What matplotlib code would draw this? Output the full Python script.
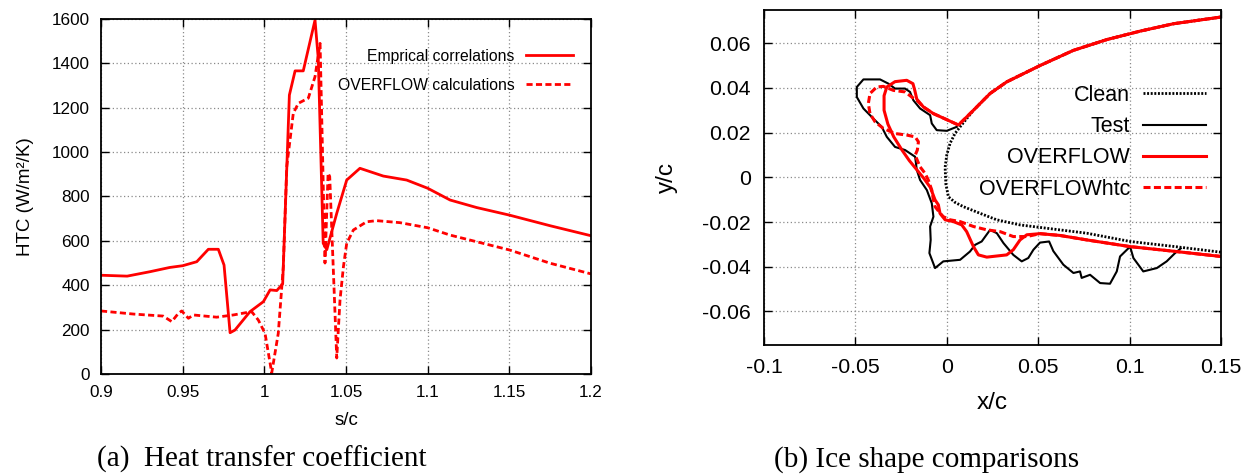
import numpy as np
import matplotlib
matplotlib.use("Agg")
import matplotlib.pyplot as plt

plt.rcParams['font.family'] = ['Liberation Sans', 'DejaVu Sans']

RED = '#ff0000'

# ---------------- (a) heat transfer coefficient ----------------
emp_s = [0.900, 0.916, 0.930, 0.942, 0.950, 0.9586, 0.9657, 0.9718, 0.9753,
         0.979, 0.982, 0.9912, 0.9994, 1.0035, 1.0076, 1.0112, 1.0153, 1.0188,
         1.0238, 1.031, 1.033, 1.036, 1.0382, 1.0443, 1.0504, 1.0585, 1.0728,
         1.0871, 1.100, 1.1137, 1.130, 1.150, 1.175, 1.200]
emp_htc = [445, 441, 461, 480, 488, 506, 562, 562, 491,
           186, 198, 281, 326, 379, 376, 406, 1257, 1366,
           1366, 1595, 1420, 589, 560, 724, 874, 927, 892,
           874, 837, 784, 750, 716, 668, 623]

ovf_s = [0.900, 0.920, 0.938, 0.9433, 0.9473, 0.9494, 0.9535, 0.9565, 0.9708,
         0.981, 0.9922, 0.9963, 1.0004, 1.0045, 1.0085, 1.0116, 1.0137, 1.0177,
         1.0208, 1.0269, 1.031, 1.0341, 1.0371, 1.0390, 1.0400, 1.0443, 1.0463,
         1.0484, 1.0504, 1.0545, 1.0626, 1.0687, 1.083, 1.100, 1.1137, 1.150,
         1.175, 1.200]
ovf_htc = [284, 270, 261, 236, 273, 284, 251, 266, 256,
           266, 281, 243, 183, 5, 183, 484, 935, 1175,
           1220, 1243, 1340, 1490, 500, 905, 890, 72, 333,
           484, 589, 649, 686, 691, 682, 659, 626, 559,
           499, 451]

htc_xticks = [0.9, 0.95, 1.0, 1.05, 1.1, 1.15, 1.2]
htc_xlabels = ['0.9', '0.95', '1', '1.05', '1.1', '1.15', '1.2']
htc_yticks = [0, 200, 400, 600, 800, 1000, 1200, 1400, 1600]

# ---------------- (b) ice shapes ----------------
clean_x = [0.150, 0.124, 0.1058, 0.0875, 0.0693, 0.051, 0.0328, 0.0237, 0.0146,
           0.0073, 0.0045, 0.0018, 0.0, -0.0009, -0.0005, 0.0009, 0.0045, 0.009,
           0.0182, 0.0273, 0.0401, 0.0766, 0.1003, 0.125, 0.150]
clean_y = [0.0717, 0.0687, 0.0654, 0.0616, 0.0568, 0.0500, 0.0427, 0.0375, 0.0300,
           0.0226, 0.0196, 0.0152, 0.0100, 0.0045, -0.0030, -0.0087, -0.0112, -0.0131,
           -0.0161, -0.0190, -0.0213, -0.0250, -0.0287, -0.0310, -0.0335]

test_x = [0.0055, 0.0, -0.0055, -0.0082, -0.0091, -0.0146, -0.0183, -0.0201,
          -0.0228, -0.0283, -0.0319, -0.0365, -0.0456, -0.0492, -0.0492, -0.0456,
          -0.0402, -0.0356, -0.0328, -0.0283, -0.0228, -0.0173, -0.0164, -0.0146,
          -0.0109, -0.0082, -0.0073, -0.0091, -0.0088, -0.0095, -0.0064, -0.0019,
          0.0073, 0.0127, 0.0155, 0.0191, 0.0237, 0.0274, 0.0310, 0.0364, 0.0410,
          0.0446, 0.0474, 0.0510, 0.0560, 0.0583, 0.0638, 0.0693, 0.0729, 0.0738,
          0.0784, 0.0839, 0.0893, 0.0930, 0.0948, 0.1003, 0.1021, 0.1075, 0.1149,
          0.1203, 0.1249, 0.1280]
test_y = [0.0226, 0.0208, 0.0211, 0.0241, 0.0278, 0.0308, 0.0345, 0.0382,
          0.0397, 0.0397, 0.0419, 0.0438, 0.0438, 0.0404, 0.0359, 0.0308,
          0.0263, 0.0226, 0.0181, 0.0136, 0.0122, 0.0092, 0.0033, -0.0012,
          -0.0057, -0.0116, -0.0176, -0.0220, -0.0280, -0.0339, -0.0406, -0.0376,
          -0.0369, -0.0332, -0.0302, -0.0287, -0.0235, -0.0250, -0.0294, -0.0347, -0.0376,
          -0.0361, -0.0324, -0.0292, -0.0287, -0.0330, -0.0391, -0.0428, -0.0421, -0.0450,
          -0.0436, -0.0473, -0.0476, -0.0421, -0.0354, -0.0310, -0.0361, -0.0421, -0.0406,
          -0.0376, -0.0339, -0.0318]

# upper surface shared by both computed shapes (trailing side -> attachment)
upper_x = [0.150, 0.124, 0.1058, 0.0875, 0.0693, 0.051, 0.0328, 0.0237, 0.0146, 0.0064]
upper_y = [0.0717, 0.0687, 0.0654, 0.0616, 0.0568, 0.0500, 0.0427, 0.0375, 0.0300, 0.0234]

ovf_ice_x = [0.0, -0.0073, -0.0128, -0.0164, -0.0175, -0.0185, -0.0219, -0.0283,
             -0.0328, -0.0343, -0.0343, -0.0322, -0.0290, -0.0245, -0.0205, -0.0165,
             -0.0125, -0.0090, -0.0064, -0.0046, -0.0037, -0.0009, 0.0036, 0.0082,
             0.0109, 0.0146, 0.0173, 0.0219, 0.0328, 0.0364, 0.0401, 0.0438]
ovf_ice_y = [0.0258, 0.0285, 0.0315, 0.0350, 0.0389, 0.0419, 0.0434, 0.0428,
             0.0404, 0.0365, 0.0300, 0.0238, 0.0181, 0.0122, 0.0075, 0.0035,
             -0.0005, -0.0045, -0.0101, -0.0123, -0.0161, -0.0190, -0.0198, -0.0213,
             -0.0243, -0.0310, -0.0347, -0.0357, -0.0347, -0.0324, -0.0280, -0.0257]

htc_ice_x = [0.0, -0.0073, -0.0128, -0.0164, -0.0191, -0.0228, -0.0292, -0.0347,
             -0.0383, -0.0420, -0.0429, -0.0420, -0.0392, -0.0347, -0.0283, -0.0219,
             -0.0173, -0.0155, -0.0161, -0.0173, -0.0146, -0.0119, -0.0101, -0.0082,
             -0.0073, -0.0064, -0.0037, -0.0019, 0.0018, 0.0073, 0.0146, 0.0219,
             0.0292, 0.0364, 0.0438]
htc_ice_y = [0.0258, 0.0285, 0.0315, 0.0345, 0.0359, 0.0382, 0.0389, 0.0407,
             0.0404, 0.0375, 0.0330, 0.0285, 0.0248, 0.0219, 0.0196, 0.0189,
             0.0181, 0.0159, 0.0122, 0.0099, 0.0047, 0.0018, -0.0012, -0.0057,
             -0.0101, -0.0131, -0.0160, -0.0176, -0.0190, -0.0198, -0.0220, -0.0235,
             -0.0243, -0.0265, -0.0265]

lower_x = [0.051, 0.0619, 0.0766, 0.1003, 0.1222, 0.150]
lower_y = [-0.0252, -0.0260, -0.0280, -0.0310, -0.0329, -0.0354]

ice_xticks = [-0.1, -0.05, 0.0, 0.05, 0.1, 0.15]
ice_xlabels = ['-0.1', '-0.05', '0', '0.05', '0.1', '0.15']
ice_yticks = [-0.06, -0.04, -0.02, 0.0, 0.02, 0.04, 0.06]
ice_ylabels = ['-0.06', '-0.04', '-0.02', '0', '0.02', '0.04', '0.06']

fig = plt.figure(figsize=(12.52, 4.74), dpi=100)
ax1 = fig.add_axes([0.0807, 0.211, 0.3914, 0.749])
ax2 = fig.add_axes([0.6102, 0.2722, 0.3650, 0.7074])


def frame(ax, size, pad):
    for sp in ax.spines.values():
        sp.set_linewidth(1.3)
        sp.set_color('black')
    ax.tick_params(which='both', direction='in', top=True, right=True,
                   length=6, width=1.0, labelsize=size, pad=pad)
    ax.grid(True, color='#8a8a8a', linestyle=(0, (1, 2)), linewidth=0.9)
    ax.set_axisbelow(True)


# panel (a)
ax1.plot(emp_s, emp_htc, color=RED, lw=2.0, label='Emprical correlations')
ax1.plot(ovf_s, ovf_htc, color=RED, lw=2.0, dashes=(2.2, 1.2),
         label='OVERFLOW calculations')
ax1.set_xlim(0.9, 1.2)
ax1.set_ylim(0, 1600)
ax1.set_xticks(htc_xticks)
ax1.set_xticklabels(htc_xlabels)
ax1.set_yticks(htc_yticks)
frame(ax1, 12.3, 8)
ax1.set_xlabel('s/c', fontsize=13.5)
ax1.set_ylabel('HTC (W/m²/K)', fontsize=13.5)
ax1.xaxis.set_label_coords(0.5, -0.107)
ax1.yaxis.set_label_coords(-0.137, 0.5)
ax1.legend(loc='upper right', bbox_to_anchor=(0.963, 0.916), frameon=False,
           markerfirst=False, fontsize=11.3, handlelength=3.0,
           handletextpad=0.7, labelspacing=0.88, borderpad=0, borderaxespad=0)

# panel (b)
ax2.plot(clean_x, clean_y, color='black', lw=2.0, linestyle=(0, (0.7, 0.6)),
         label='Clean')
ax2.plot(test_x, test_y, color='black', lw=1.5, label='Test')
ax2.plot(upper_x + ovf_ice_x + lower_x, upper_y + ovf_ice_y + lower_y,
         color=RED, lw=2.2, label='OVERFLOW')
ax2.plot(upper_x + htc_ice_x + lower_x, upper_y + htc_ice_y + lower_y,
         color=RED, lw=2.2, dashes=(2.3, 1.1), label='OVERFLOWhtc')
ax2.set_xlim(-0.1, 0.15)
ax2.set_ylim(-0.075, 0.075)
ax2.set_xticks(ice_xticks)
ax2.set_xticklabels(ice_xlabels)
ax2.set_yticks(ice_yticks)
ax2.set_yticklabels(ice_ylabels)
frame(ax2, 15.3, 9.5)
ax2.set_xlabel('x/c', fontsize=17.5)
ax2.set_ylabel('y/c', fontsize=17.5)
ax2.xaxis.set_label_coords(0.5, -0.141)
ax2.yaxis.set_label_coords(-0.189, 0.5)
ax2.legend(loc='upper right', bbox_to_anchor=(0.967, 0.776), frameon=False,
           markerfirst=False, fontsize=15.5, handlelength=2.93,
           handletextpad=0.6, labelspacing=0.48, borderpad=0, borderaxespad=0)

fig.text(97 / 1252, 0.0154, '(a)  Heat transfer coefficient',
         fontsize=21, family='Liberation Serif', va='baseline', ha='left')
fig.text(774 / 1252, 0.0154, '(b) Ice shape comparisons',
         fontsize=21, family='Liberation Serif', va='baseline', ha='left')

fig.savefig('out.png', dpi=100)
